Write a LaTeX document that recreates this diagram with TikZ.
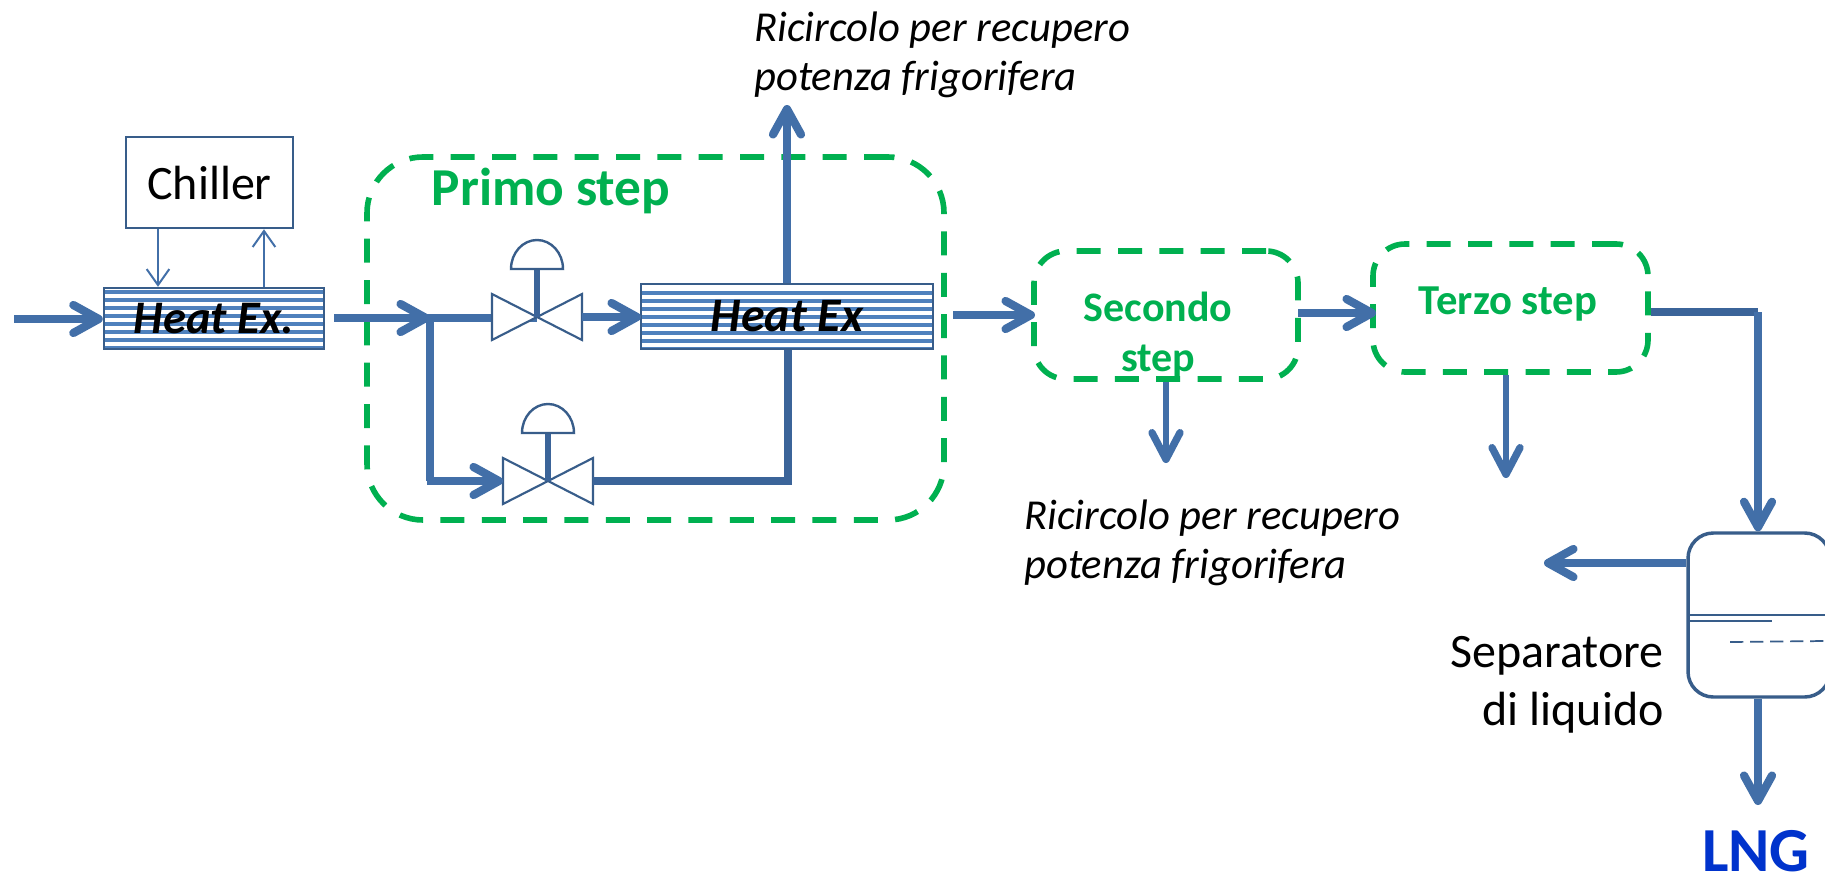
\documentclass[tikz,border=0pt]{standalone}
\usepackage{fontspec}
\setmainfont{Carlito}
\usetikzlibrary{arrows.meta,calc}
\definecolor{pipe}{HTML}{426FA8}
\definecolor{pipedark}{HTML}{3B6499}
\definecolor{edge}{HTML}{385D8A}
\definecolor{stripe}{HTML}{4F81BD}
\definecolor{stepgreen}{HTML}{00B050}
\definecolor{lngblue}{HTML}{0033CC}
\newcommand{\pu}{0.75pt}
\newcommand{\sz}[2]{\fontsize{#1}{#2}\selectfont}
\tikzset{
  x=0.75pt,y=-0.75pt,
  flow/.style={draw=pipe,line width=6.2pt,-{Straight Barb[round,length=19pt,width=21pt,line width=6.2pt]}},
  flowthin/.style={draw=pipe,line width=5pt,-{Straight Barb[round,length=20pt,width=21pt,line width=5.5pt]}},
  pipeline/.style={draw=pipe,line width=6.2pt},
  pipedk/.style={draw=pipedark,line width=6.2pt},
  signal/.style={draw=pipe,line width=1.5pt,-{Straight Barb[length=12pt,width=17pt]}},
  plain/.style={draw=edge,line width=1.9pt,fill=white,inner sep=0pt},
  stepbox/.style={draw=stepgreen,line width=4.2pt,dash pattern=on 18pt off 13pt,rounded corners=#1,inner sep=0pt},
  steplabel/.style={text=stepgreen,font=\bfseries,inner sep=0pt,align=center},
  hxbox/.style={draw=edge,line width=1.8pt,fill=white,inner sep=0pt,
    path picture={\foreach \i in {0,...,8}{
      \fill[stripe] ($(path picture bounding box.north west)+(-2,#1+\i*8)$) rectangle ++(400,4);}}},
  note/.style={font=\itshape\sz{32}{36.7},align=left,inner sep=0pt,anchor=west},
  valvepic/.pic={
    \draw[edge,line width=1.6pt,fill=white,line join=miter] (-45,-23)--(45,23)--(45,-23)--(-45,23)--cycle;
    \draw[pipedark,line width=4.4pt] (0,0)--(0,-48);
    \draw[edge,line width=1.8pt,fill=white] (-26,-48) arc[start angle=180,end angle=360,x radius=26,y radius=29] -- cycle;
    \coordinate (-l) at (-45,0);
    \coordinate (-r) at (45,0);
  },
}
\begin{document}
\begin{tikzpicture}
\useasboundingbox (0,0) rectangle (1825,878);

% step boxes
\node[stepbox=42pt,minimum width=577*\pu,minimum height=363*\pu] (primo) at (655.5,338.5) {};
\node[stepbox=24pt,minimum width=264*\pu,minimum height=128*\pu] (secondo) at (1166,315) {};
\node[stepbox=24pt,minimum width=275*\pu,minimum height=128*\pu] (terzo) at (1510.5,308) {};
\node[steplabel,font=\bfseries\sz{40}{43}] (primolabel) at (551,191) {Primo step};
\node[steplabel,font=\bfseries\sz{31.5}{38}] (secondolabel) at (1158,335) {Secondo\\step};
\node[steplabel,font=\bfseries\sz{32}{38}] (terzolabel) at (1508,304) {Terzo step};

% named free ends
\coordinate (inlet) at (14,319);
\coordinate (outa) at (334,318);
\coordinate (junction) at (430,318);
\coordinate (bottomleft) at (430,481);
\coordinate (bottomright) at (788,481);
\coordinate (hxbin) at (641,317);
\coordinate (outb) at (953,315);
\coordinate (intos) at (1035,315);
\coordinate (outs) at (1298,313);
\coordinate (intot) at (1376,313);
\coordinate (toptip) at (787,105);
\coordinate (secondotip) at (1166,463);
\coordinate (terzotip) at (1506,478);
\coordinate (tcorner) at (1758,312);
\coordinate (cdown) at (158,0);
\coordinate (cup) at (264,0);
\coordinate (sepgas) at (1544,563);
\coordinate (lngtip) at (1758,805);

% chiller + heat exchangers
\node[plain,minimum width=167*\pu,minimum height=91*\pu,font=\sz{36}{43}] (chiller) at (209.5,182.5) {Chiller};
\node[hxbox=2,minimum width=220*\pu,minimum height=61*\pu,font=\bfseries\itshape\sz{35}{36}] (hxa) at (214,318.5) {Heat Ex.};
\node[hxbox=7,minimum width=292*\pu,minimum height=65*\pu,font=\bfseries\itshape\sz{36}{36}] (hxb) at (787,316.5) {Heat Ex};

\draw[signal] (cdown |- chiller.south) -- (cdown |- hxa.north);
\draw[signal] (cup |- hxa.north) -- (cup |- chiller.south);
\draw[flow] (inlet) -- (inlet -| hxa.west);
\draw[flow] (outa) -- (junction);

% valves
\draw[pipeline] ([xshift=-4*\pu]junction) -- (537,318);
\draw[pipeline] (junction) -- (bottomleft);
\pic (va) at (537,317) {valvepic};
\pic (vb) at (548,481) {valvepic};
\draw[flow] (va-r) -- (hxbin);
\draw[flow] ([xshift=-3*\pu]bottomleft) -- (vb-l);
\draw[pipedk] (vb-r) -- (bottomright) -- (bottomright |- hxb.south);
\draw[flow] (toptip |- hxb.north) -- (toptip);
\draw[flow] (outb) -- (intos);
\draw[flow] (outs) -- (intot);
\draw[flowthin] (secondotip |- secondo.south) -- (secondotip);
\draw[flowthin] (terzotip |- terzo.south) -- (terzotip);

% separator vessel
\node[draw=edge,line width=2.6pt,fill=white,rounded corners=19pt,inner sep=0pt,minimum width=142*\pu,minimum height=164*\pu] (vessel) at (1759,615) {};
\draw[edge,line width=1.3pt] (1689,615) -- (1826,615);
\draw[edge,line width=1.3pt] (1689,621) -- (1772,621);
\draw[edge,line width=1.3pt,dash pattern=on 10pt off 5pt] (1730,642) -- (1826,641);

\draw[pipedk] (outs -| terzo.east) ++(0,-1) coordinate (tstart) -- (tcorner);
\draw[flow] (tcorner) -- (tcorner |- vessel.north);
\draw[flow] (vessel.west |- sepgas) -- (sepgas);
\draw[flow] (lngtip |- vessel.south) -- (lngtip);

% texts
\node[note] (notea) at (754,55) {Ricircolo per recupero\\potenza frigorifera};
\node[note] (noteb) at (1024,543) {Ricircolo per recupero\\potenza frigorifera};
\node[font=\sz{36}{43.5},align=right,inner sep=0pt,anchor=east] (sepname) at (1664,685) {Separatore\\di liquido};
\node[font=\bfseries\sz{47}{54},text=lngblue,inner sep=0pt,anchor=base] (lng) at (1756,871) {LNG};
\end{tikzpicture}
\end{document}
